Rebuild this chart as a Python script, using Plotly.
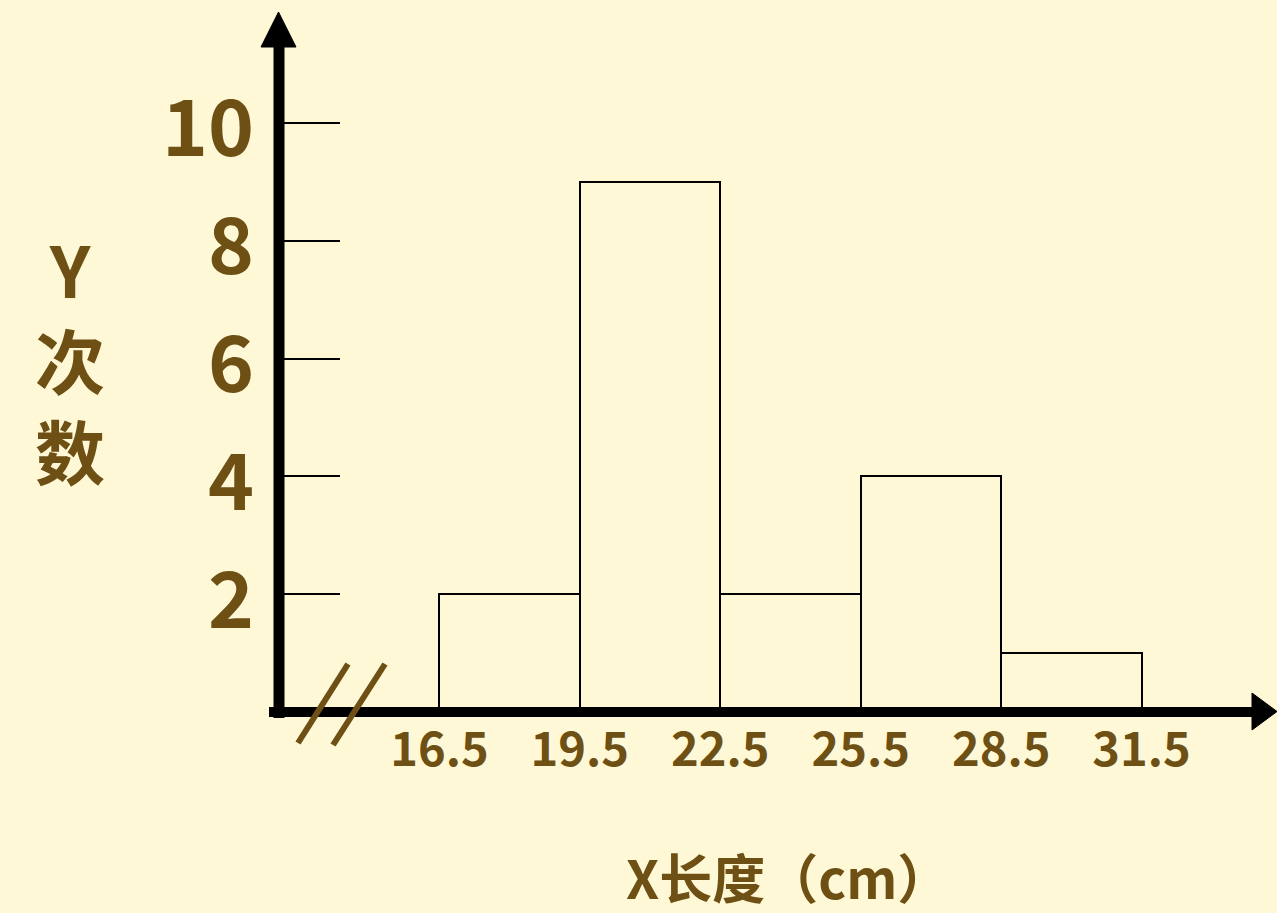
import plotly.graph_objects as go

# ---- data ----
bin_edges = [16.5, 19.5, 22.5, 25.5, 28.5, 31.5]
counts = [2, 9, 2, 4, 1]
x_tick_labels = ["16.5", "19.5", "22.5", "25.5", "28.5", "31.5"]
y_ticks = [2, 4, 6, 8, 10]
y_tick_labels = ["2", "4", "6", "8", "10"]
y_title = "Y<br>次<br>数"
x_title = "X长度（cm）"

# ---- style ----
W, H = 1277, 913
BG = "#FFF8D7"
BROWN = "#6E5014"
FONT = "Noto Sans CJK SC"

centers = [(a + b) / 2 for a, b in zip(bin_edges[:-1], bin_edges[1:])]
widths = [b - a for a, b in zip(bin_edges[:-1], bin_edges[1:])]


def P(xp, yp):
    return xp / W, 1 - yp / H


fig = go.Figure(
    go.Bar(
        x=centers,
        y=counts,
        width=widths,
        marker=dict(color="rgba(0,0,0,0)", line=dict(color="black", width=2)),
        hoverinfo="x+y",
    )
)

x_axis_px = 279   # pixel column of the vertical axis
x0_px = 712       # pixel row of the horizontal axis
fig.update_layout(
    width=W,
    height=H,
    margin=dict(l=0, r=0, t=0, b=0),
    paper_bgcolor=BG,
    plot_bgcolor=BG,
    showlegend=False,
    bargap=0,
    font=dict(family=FONT, color=BROWN),
    xaxis=dict(
        domain=[x_axis_px / W, 1],
        range=[13.073, 34.393],
        tickvals=bin_edges,
        ticktext=x_tick_labels,
        tickfont=dict(family=FONT, size=47, color=BROWN, weight="bold"),
        ticks="",
        showgrid=False,
        zeroline=False,
        showline=False,
        automargin=False,
        ticklabelstandoff=6,
    ),
    yaxis=dict(
        domain=[(H - x0_px) / H, 1],
        range=[0, 12.088],
        tickvals=y_ticks,
        ticktext=y_tick_labels,
        tickfont=dict(family=FONT, size=78, color=BROWN, weight="bold"),
        ticks="inside",
        ticklen=61,
        tickwidth=1.5,
        tickcolor="black",
        showgrid=False,
        zeroline=False,
        showline=False,
        automargin=False,
        ticklabelstandoff=24,
        ticklabelshift=6,
    ),
)

shapes = []
# vertical axis shaft and arrowhead
xa, ya = P(279, 718)
xb, yb = P(279, 45)
shapes.append(dict(type="line", xref="paper", yref="paper", x0=xa, y0=ya, x1=xb, y1=yb,
                   line=dict(color="black", width=11)))
p1, p2, p3 = P(261, 47), P(296, 47), P(278.5, 12)
shapes.append(dict(type="path", xref="paper", yref="paper",
                   path=f"M {p1[0]},{p1[1]} L {p2[0]},{p2[1]} L {p3[0]},{p3[1]} Z",
                   fillcolor="black", line=dict(color="black", width=1)))
# horizontal axis shaft and arrowhead
xa, ya = P(269, 712)
xb, yb = P(1254, 712)
shapes.append(dict(type="line", xref="paper", yref="paper", x0=xa, y0=ya, x1=xb, y1=yb,
                   line=dict(color="black", width=10)))
p1, p2, p3 = P(1252, 693), P(1252, 730), P(1277, 711.5)
shapes.append(dict(type="path", xref="paper", yref="paper",
                   path=f"M {p1[0]},{p1[1]} L {p2[0]},{p2[1]} L {p3[0]},{p3[1]} Z",
                   fillcolor="black", line=dict(color="black", width=1)))
# axis break marks
for (ax, ay, bx, by) in [(348, 664, 298, 743), (385, 664, 333, 745)]:
    a = P(ax, ay)
    b = P(bx, by)
    shapes.append(dict(type="line", xref="paper", yref="paper", x0=a[0], y0=a[1], x1=b[0], y1=b[1],
                       line=dict(color=BROWN, width=6)))
fig.update_layout(shapes=shapes)

annotations = []
x, y = P(70, 358)
annotations.append(dict(text=y_title, x=x, y=y, xref="paper", yref="paper", showarrow=False,
                        xanchor="center", yanchor="middle", align="center",
                        font=dict(family=FONT, size=70, color=BROWN, weight="bold")))
x, y = P(788, 876)
annotations.append(dict(text=x_title, x=x, y=y, xref="paper", yref="paper", showarrow=False,
                        xanchor="center", yanchor="middle",
                        font=dict(family=FONT, size=53, color=BROWN, weight="bold")))
fig.update_layout(annotations=annotations)

fig.write_html("out.html", config={"displayModeBar": False},
               post_script="document.body.style.margin='0';")
